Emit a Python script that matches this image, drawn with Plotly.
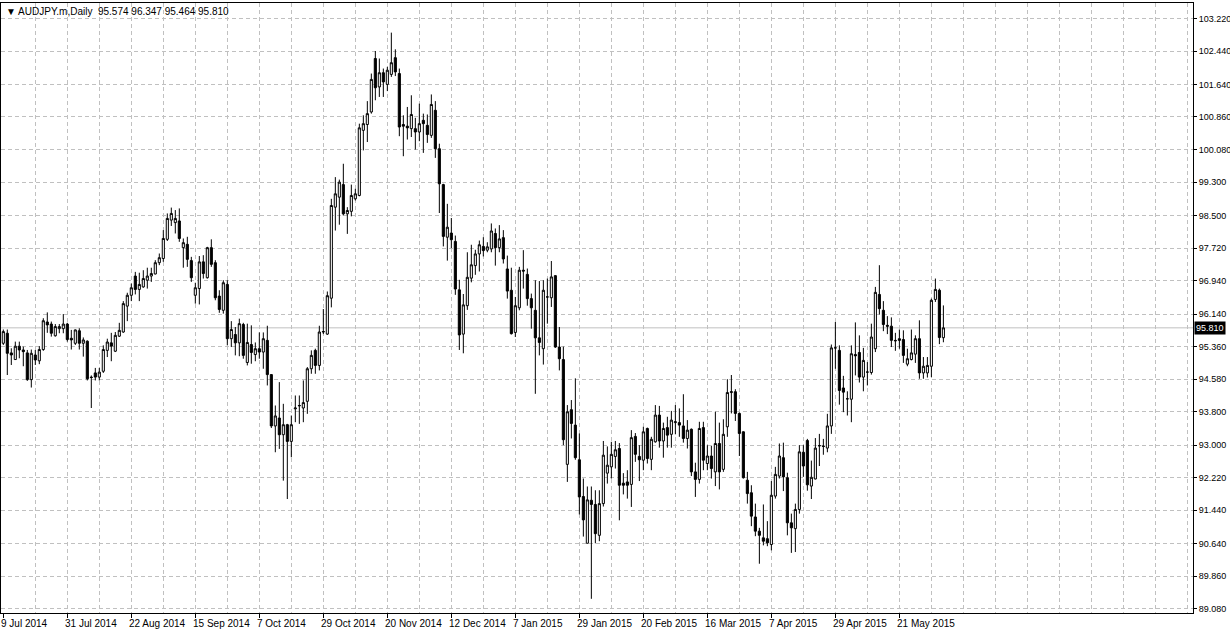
import plotly.graph_objects as go
import pandas as pd

# ---------------- data ----------------
_all_days = pd.bdate_range("2014-07-09", periods=238)
dates = [d.strftime("%Y-%m-%d") for d in _all_days if d.strftime("%m-%d") not in ("12-25", "01-01")][:236]

open_ = [95.44,95.68,95.21,95.05,95.37,95.28,95.21,94.57,95.16,95.02,95.29,95.95,95.90,95.62,95.79,95.79,95.90,95.56,95.44,95.74,
         95.44,95.49,94.63,94.73,94.63,94.77,95.27,95.45,95.25,95.61,95.71,96.33,96.59,97.05,96.73,96.79,96.95,97.05,97.10,97.37,
         97.47,97.93,98.39,98.33,98.37,97.73,97.81,97.42,96.59,96.75,97.39,97.01,97.73,97.37,96.57,96.23,96.85,95.55,95.65,95.45,
         95.89,94.98,95.41,95.17,95.31,95.23,95.51,94.69,93.46,93.65,93.25,93.49,93.09,93.87,93.94,93.89,94.05,94.83,95.27,94.91,
         95.71,95.66,96.52,98.70,98.94,99.24,98.54,98.60,98.90,98.98,100.54,100.68,100.98,102.26,101.58,101.92,101.64,101.88,102.28,101.90,
         100.68,100.64,100.58,100.58,100.50,100.78,100.66,100.42,101.02,100.10,99.24,97.98,98.08,97.88,96.72,95.66,96.34,97.00,97.30,97.58,
         97.76,97.67,97.70,98.07,97.73,97.97,97.22,96.71,95.70,96.29,97.19,97.09,96.51,96.23,95.57,95.31,96.55,96.53,97.06,95.35,
         95.05,92.54,93.85,93.48,92.65,91.77,90.65,91.68,91.58,90.84,91.60,92.33,92.48,92.73,92.92,92.09,92.12,92.06,93.21,92.73,
         92.64,93.40,92.66,93.08,93.72,93.10,93.42,93.26,93.54,93.54,93.46,93.16,93.38,92.36,92.18,93.42,92.56,92.74,92.36,93.04,
         92.42,93.44,94.26,94.28,93.76,93.32,92.16,91.86,91.28,90.94,90.78,90.76,90.62,91.78,92.26,92.70,92.22,91.14,91.00,91.46,
         92.83,93.11,92.02,92.19,92.98,92.98,92.93,93.46,95.33,95.27,94.37,94.11,94.10,95.17,95.22,94.63,94.75,94.74,95.31,96.61,
         96.23,95.87,95.85,95.51,95.55,95.53,94.94,95.05,95.18,95.55,94.73,94.73,94.89,96.49,96.71,95.574]

high = [95.77,95.77,95.32,95.48,95.48,95.36,95.28,95.29,95.28,95.37,96.04,96.18,95.96,95.90,95.90,96.14,95.93,95.76,95.77,95.80,
        95.58,95.51,94.67,94.85,94.85,95.39,95.55,95.69,95.71,95.93,96.45,96.65,96.87,97.15,97.13,97.19,97.25,97.25,97.43,97.59,
        98.15,98.55,98.69,98.63,98.67,97.95,97.99,97.51,96.89,97.53,97.55,97.75,97.93,97.43,96.71,96.95,96.95,95.97,95.83,96.03,
        95.93,95.91,95.87,95.46,95.70,95.70,95.86,94.69,93.95,94.51,93.99,93.51,93.71,94.19,94.19,94.55,94.87,95.27,95.31,95.86,
        96.26,96.68,98.90,99.42,99.36,99.74,98.70,99.24,99.14,100.70,100.90,101.24,101.90,102.44,102.26,102.02,102.06,102.88,102.48,102.02,
        100.90,101.10,101.38,100.84,101.18,100.94,100.92,101.40,101.24,100.22,99.26,98.78,98.44,98.02,96.96,96.62,97.62,97.80,97.68,97.90,
        97.98,97.86,98.31,98.19,98.27,98.15,97.54,97.25,96.55,97.27,97.67,97.23,96.63,96.95,96.93,96.95,96.99,97.41,97.07,95.83,
        95.36,93.96,94.08,94.60,93.28,92.20,92.01,92.01,91.92,91.92,93.10,92.97,93.08,93.10,93.05,92.33,92.40,93.36,93.29,93.00,
        93.44,93.42,93.20,93.96,93.94,93.54,93.68,93.82,93.96,93.88,94.22,93.60,93.40,92.58,93.56,93.56,93.00,92.98,93.80,93.54,
        93.62,94.58,94.68,94.34,93.78,93.33,92.36,92.04,91.60,91.02,91.58,91.18,92.14,92.48,93.04,93.06,92.34,91.36,91.60,93.00,
        93.00,93.15,92.63,93.17,93.27,93.15,93.75,95.41,95.95,95.39,94.66,94.29,95.39,95.94,95.63,95.33,94.99,95.91,96.79,97.31,
        96.45,96.09,96.06,95.69,95.77,95.75,95.31,95.77,95.63,95.99,95.11,95.11,96.51,96.99,96.75,96.347]

low = [95.40,94.68,94.92,95.04,95.08,94.89,94.54,94.38,94.92,94.94,95.26,95.69,95.60,95.60,95.68,95.68,95.48,95.29,95.40,95.29,
       95.12,94.55,93.89,94.55,94.55,94.73,95.11,95.01,95.23,95.59,95.69,95.97,96.45,96.61,96.45,96.77,96.75,96.91,97.09,97.31,
       97.39,97.89,98.25,98.07,97.87,97.25,97.27,96.91,96.39,96.37,96.99,96.99,97.27,96.47,96.17,96.15,95.39,95.35,95.15,95.13,
       95.07,94.91,94.95,95.01,95.07,94.83,94.43,93.41,92.83,92.91,92.15,91.71,92.71,93.55,93.51,93.55,93.75,94.71,94.71,94.79,
       95.66,95.64,96.30,98.14,98.28,98.50,98.06,98.48,98.86,98.96,100.06,100.26,100.94,101.26,101.34,101.34,101.48,101.82,101.84,100.40,
       99.92,100.32,100.38,100.08,100.28,100.00,100.24,100.36,99.88,98.56,97.76,97.42,97.72,96.60,95.28,95.20,96.24,96.90,97.08,97.16,
       97.52,97.62,97.62,97.30,97.62,97.35,96.51,95.65,95.59,96.23,96.75,96.34,95.79,94.23,95.15,94.93,95.91,96.31,95.33,94.79,
       93.00,92.12,93.16,92.65,91.34,90.81,90.65,89.32,90.65,90.70,91.53,92.08,92.20,92.44,91.20,91.82,91.72,91.52,92.60,92.14,
       92.40,92.56,92.40,93.06,92.94,92.70,92.94,92.94,93.26,93.20,93.06,92.92,92.26,91.76,92.08,92.40,92.40,92.20,92.02,91.94,
       92.36,93.20,93.76,93.58,92.74,92.20,91.60,91.06,90.82,90.16,90.60,90.58,90.48,91.72,92.20,91.90,90.84,90.42,90.44,91.36,
       92.24,91.91,91.71,92.18,92.50,92.77,92.83,93.27,94.83,93.97,93.79,93.71,93.55,94.67,94.50,94.29,94.43,94.69,95.23,96.13,
       95.73,95.66,95.35,95.26,95.31,94.97,94.89,95.03,94.97,94.59,94.59,94.62,94.63,96.43,95.42,95.464]

close = [95.72,95.20,95.16,95.37,95.28,95.24,94.57,95.20,95.04,95.29,95.98,95.88,95.68,95.84,95.84,95.90,95.53,95.52,95.76,95.44,
         95.52,94.59,94.62,94.63,94.75,95.29,95.47,95.37,95.63,95.75,96.39,96.59,96.77,96.73,96.85,96.99,97.05,97.11,97.37,97.49,
         97.95,98.43,98.55,98.43,97.95,97.85,97.45,97.01,96.77,97.39,97.11,97.73,97.33,96.53,96.25,96.89,95.55,95.77,95.45,95.91,
         95.15,95.46,95.22,95.31,95.23,95.55,94.69,93.46,93.70,93.25,93.49,93.09,93.49,93.89,93.95,94.02,94.83,95.15,94.91,95.71,
         95.72,96.58,98.74,99.02,99.30,98.54,98.62,98.98,99.02,100.60,100.70,100.94,101.76,101.56,101.92,101.70,101.98,102.16,101.94,100.62,
         100.64,100.60,100.92,100.50,100.70,100.70,100.44,101.16,100.10,99.26,98.00,98.22,97.92,96.74,95.64,96.36,97.02,97.32,97.58,97.80,
         97.66,97.75,98.13,97.73,97.94,97.46,96.69,95.67,96.34,97.19,97.17,96.51,96.29,95.57,95.46,96.71,96.55,97.03,95.35,95.07,
         93.13,93.80,93.52,92.70,91.76,91.21,91.69,91.58,90.88,91.60,92.76,92.52,92.78,92.89,92.04,92.04,92.04,93.18,92.78,92.65,
         93.32,92.68,93.14,93.72,93.10,93.40,93.24,93.60,93.56,93.48,93.16,93.36,92.36,92.18,93.40,92.64,92.74,92.44,93.04,92.36,
         93.26,94.26,94.28,93.76,93.28,92.22,91.84,91.30,90.94,90.84,90.70,90.66,91.80,92.30,92.74,92.24,91.14,91.02,91.46,92.84,
         92.50,92.05,92.23,92.93,92.99,92.97,93.46,95.33,95.33,94.31,94.27,94.11,95.19,95.14,94.63,95.03,94.75,95.59,96.66,96.27,
         95.89,95.85,95.51,95.50,95.51,95.15,95.07,95.21,95.55,94.73,94.89,94.91,96.47,96.73,95.58,95.810]

tick_labels = ["9 Jul 2014", "31 Jul 2014", "22 Aug 2014", "15 Sep 2014", "7 Oct 2014", "29 Oct 2014",
               "20 Nov 2014", "12 Dec 2014", "7 Jan 2015", "29 Jan 2015", "20 Feb 2015", "16 Mar 2015",
               "7 Apr 2015", "29 Apr 2015", "21 May 2015"]
price_ticks = [103.22, 102.44, 101.64, 100.86, 100.08, 99.30, 98.50, 97.72, 96.94, 96.14,
               95.36, 94.58, 93.80, 93.00, 92.22, 91.44, 90.64, 89.86, 89.08]
symbol_title = "AUDJPY.m,Daily"

# ---------------- figure ----------------
x = list(range(len(open_)))
tick_pos = [i * 16 for i in range(len(tick_labels))]
grid_pos = [i * 8 for i in range(1, 38)]

FONT = "Liberation Sans"

fig = go.Figure()
fig.add_trace(go.Candlestick(
    x=x, open=open_, high=high, low=low, close=close,
    hovertext=dates,
    increasing=dict(line=dict(color="black", width=1), fillcolor="white"),
    decreasing=dict(line=dict(color="black", width=1), fillcolor="black"),
    whiskerwidth=0, showlegend=False,
))

# bid line
fig.add_shape(type="line", xref="paper", x0=0, x1=1, yref="y", y0=close[-1], y1=close[-1],
              line=dict(color="#c0c0c0", width=1), layer="below")

fig.add_annotation(xref="paper", x=1, xanchor="left", yref="y", y=close[-1], yanchor="middle",
                   text=f"{close[-1]:.3f}", showarrow=False, bgcolor="black",
                   font=dict(family=FONT, size=9, color="white"), borderpad=1, xshift=1)

fig.add_annotation(xref="paper", x=0, xanchor="left", yref="paper", y=1, yanchor="top",
                   text=f"\u25bc {symbol_title}  {open_[-1]:.3f} {high[-1]:.3f} {low[-1]:.3f} {close[-1]:.3f}",
                   showarrow=False, font=dict(family=FONT, size=10, color="black"), xshift=3, yshift=-1)

for p, lab in zip(tick_pos, tick_labels):
    fig.add_annotation(xref="x", x=p, xanchor="left", yref="paper", y=0, yanchor="top",
                       text=lab, showarrow=False, font=dict(family=FONT, size=10, color="black"),
                       xshift=-4, yshift=-3)

fig.update_layout(
    width=1230, height=631,
    margin=dict(l=1, r=37, t=3, b=18, pad=0, autoexpand=False),
    paper_bgcolor="white", plot_bgcolor="white",
    font=dict(family=FONT, size=10, color="black"),
    xaxis=dict(
        range=[-0.575, 297.4], rangeslider=dict(visible=False), automargin=False,
        tickvals=tick_pos, showticklabels=False, ticks="outside", ticklen=4, tickcolor="black",
        showgrid=False, zeroline=False,
        showline=True, mirror=True, linecolor="black", linewidth=1,
        minor=dict(tickvals=grid_pos, showgrid=True, gridcolor="#c0c0c0", griddash="4px,3px", gridwidth=1, ticks=""),
    ),
    yaxis=dict(
        side="right", range=[88.98, 103.59], automargin=False,
        tickvals=price_ticks, ticktext=[f"{v:.3f}" for v in price_ticks],
        ticks="outside", ticklen=3, tickcolor="black", ticklabelstandoff=0,
        showgrid=True, gridcolor="#c0c0c0", griddash="4px,3px", gridwidth=1,
        zeroline=False, showline=True, mirror=True, linecolor="black", linewidth=1,
        tickfont=dict(family=FONT, size=9, color="black"),
    ),
    boxgap=0.25,
)

fig.write_html("out.html", config={"displayModeBar": False},
               post_script="document.body.style.margin='0';document.body.style.overflow='hidden';")
